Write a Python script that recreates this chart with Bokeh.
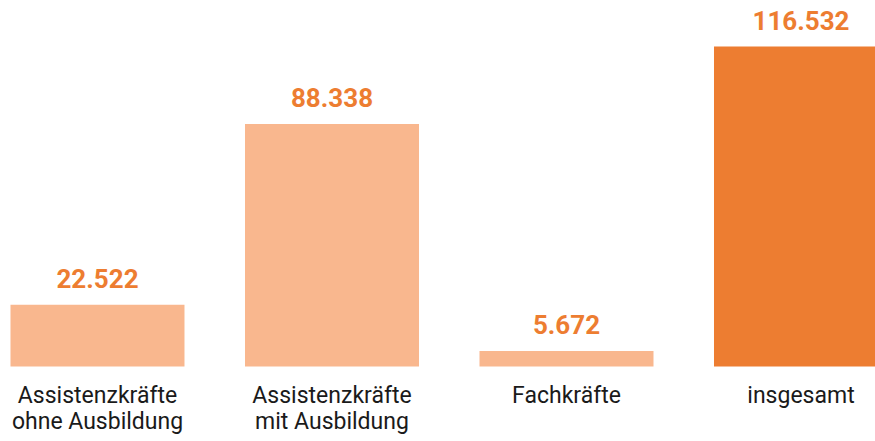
from bokeh.plotting import figure
from bokeh.models import ColumnDataSource, Range1d
from bokeh.core.properties import value
from bokeh.embed import file_html
from bokeh.resources import INLINE

categories = ["Assistenzkräfte\nohne Ausbildung", "Assistenzkräfte\nmit Ausbildung", "Fachkräfte", "insgesamt"]
values = [22522, 88338, 5672, 116532]
value_labels = ["22.522", "88.338", "5.672", "116.532"]
bar_colors = ["#F9B78E", "#F9B78E", "#F9B78E", "#ED7D31"]

xs = list(range(len(categories)))
line1 = [c.split("\n")[0] for c in categories]
line2 = [c.split("\n")[1] if "\n" in c else "" for c in categories]

src = ColumnDataSource(dict(x=xs, top=values, color=bar_colors, lab=value_labels,
                            l1=line1, l2=line2, zero=[0] * len(xs)))

W, H = 875, 441
p = figure(width=W, height=H, output_backend="svg", toolbar_location=None,
           x_range=Range1d(-0.4136, 3.3177), y_range=Range1d(-27312, 133282),
           min_border=0, outline_line_color=None)
p.xaxis.visible = False
p.yaxis.visible = False
p.xgrid.visible = False
p.ygrid.visible = False
p.background_fill_color = "white"
p.border_fill_color = "white"

p.vbar(x="x", top="top", bottom=0, width=0.742, color="color", line_color=None, source=src)

p.text(x="x", y="top", text="lab", source=src, text_align="center", text_baseline="alphabetic",
       y_offset=-26, text_font=value("Roboto"), text_font_style="bold",
       text_font_size="26px", text_color="#ED7D31")

p.text(x="x", y="zero", text="l1", source=src, text_align="center", text_baseline="alphabetic",
       y_offset=29, text_font=value("Roboto"), text_font_size="23px", text_color="#1a1a1a")
p.text(x="x", y="zero", text="l2", source=src, text_align="center", text_baseline="alphabetic",
       y_offset=55, text_font=value("Roboto"), text_font_size="23px", text_color="#1a1a1a")

open("out.html", "w").write(file_html(p, INLINE))
